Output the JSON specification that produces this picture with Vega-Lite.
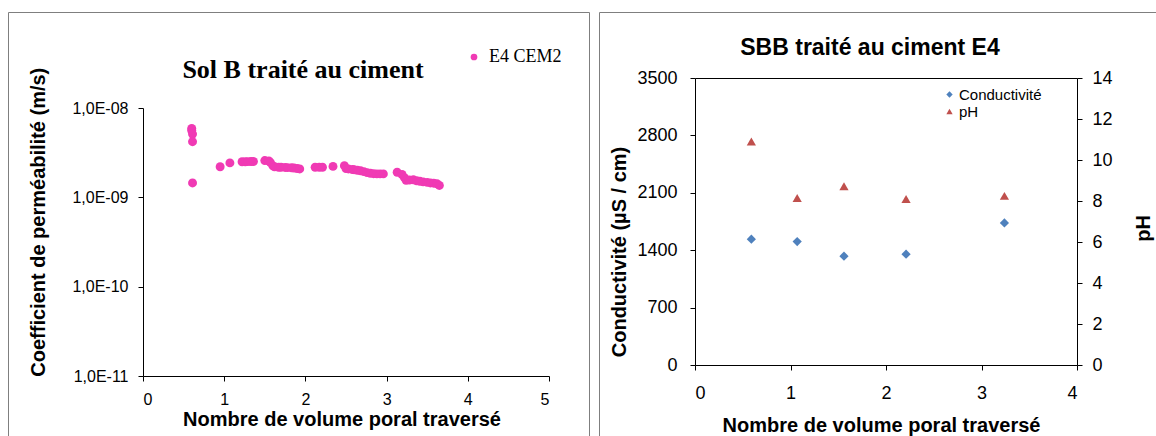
{
  "$schema": "https://vega.github.io/schema/vega-lite/v6.json",
  "padding": {"left": 7, "top": 11, "right": 0, "bottom": 0},
  "background": "white",
  "spacing": 8,
  "config": {
    "view": {"stroke": "#7f7f7f", "strokeWidth": 1},
    "axis": {
      "grid": false,
      "domainColor": "black",
      "tickColor": "black",
      "labelColor": "black",
      "titleColor": "black",
      "labelFont": "Liberation Sans",
      "titleFont": "Liberation Sans",
      "titleFontWeight": "bold",
      "tickSize": 5,
      "domainWidth": 1,
      "tickWidth": 1
    },
    "legend": {"labelColor": "black", "padding": 0}
  },
  "resolve": {"scale": {"color": "independent", "shape": "independent"}, "legend": {"color": "independent", "shape": "independent"}},
  "datasets": {
    "perm": [
      {"v": 0.60, "k": 5.9e-9, "serie": "E4 CEM2"},
      {"v": 0.60, "k": 5.6e-9, "serie": "E4 CEM2"},
      {"v": 0.61, "k": 5.1e-9, "serie": "E4 CEM2"},
      {"v": 0.61, "k": 4.2e-9, "serie": "E4 CEM2"},
      {"v": 0.61, "k": 1.45e-9, "serie": "E4 CEM2"},
      {"v": 0.95, "k": 2.2e-9, "serie": "E4 CEM2"},
      {"v": 1.07, "k": 2.43e-9, "serie": "E4 CEM2"},
      {"v": 1.22, "k": 2.5e-9, "serie": "E4 CEM2"},
      {"v": 1.26, "k": 2.5e-9, "serie": "E4 CEM2"},
      {"v": 1.29, "k": 2.51e-9, "serie": "E4 CEM2"},
      {"v": 1.33, "k": 2.52e-9, "serie": "E4 CEM2"},
      {"v": 1.36, "k": 2.52e-9, "serie": "E4 CEM2"},
      {"v": 1.50, "k": 2.58e-9, "serie": "E4 CEM2"},
      {"v": 1.55, "k": 2.55e-9, "serie": "E4 CEM2"},
      {"v": 1.57, "k": 2.45e-9, "serie": "E4 CEM2"},
      {"v": 1.60, "k": 2.25e-9, "serie": "E4 CEM2"},
      {"v": 1.62, "k": 2.2e-9, "serie": "E4 CEM2"},
      {"v": 1.67, "k": 2.17e-9, "serie": "E4 CEM2"},
      {"v": 1.70, "k": 2.17e-9, "serie": "E4 CEM2"},
      {"v": 1.75, "k": 2.16e-9, "serie": "E4 CEM2"},
      {"v": 1.78, "k": 2.15e-9, "serie": "E4 CEM2"},
      {"v": 1.83, "k": 2.14e-9, "serie": "E4 CEM2"},
      {"v": 1.86, "k": 2.13e-9, "serie": "E4 CEM2"},
      {"v": 1.90, "k": 2.1e-9, "serie": "E4 CEM2"},
      {"v": 1.93, "k": 2.08e-9, "serie": "E4 CEM2"},
      {"v": 2.12, "k": 2.17e-9, "serie": "E4 CEM2"},
      {"v": 2.17, "k": 2.17e-9, "serie": "E4 CEM2"},
      {"v": 2.21, "k": 2.17e-9, "serie": "E4 CEM2"},
      {"v": 2.34, "k": 2.22e-9, "serie": "E4 CEM2"},
      {"v": 2.48, "k": 2.26e-9, "serie": "E4 CEM2"},
      {"v": 2.50, "k": 2.1e-9, "serie": "E4 CEM2"},
      {"v": 2.53, "k": 2.08e-9, "serie": "E4 CEM2"},
      {"v": 2.58, "k": 2.05e-9, "serie": "E4 CEM2"},
      {"v": 2.60, "k": 2.04e-9, "serie": "E4 CEM2"},
      {"v": 2.64, "k": 2.01e-9, "serie": "E4 CEM2"},
      {"v": 2.68, "k": 1.98e-9, "serie": "E4 CEM2"},
      {"v": 2.72, "k": 1.94e-9, "serie": "E4 CEM2"},
      {"v": 2.76, "k": 1.89e-9, "serie": "E4 CEM2"},
      {"v": 2.80, "k": 1.86e-9, "serie": "E4 CEM2"},
      {"v": 2.84, "k": 1.84e-9, "serie": "E4 CEM2"},
      {"v": 2.88, "k": 1.83e-9, "serie": "E4 CEM2"},
      {"v": 2.92, "k": 1.83e-9, "serie": "E4 CEM2"},
      {"v": 2.96, "k": 1.83e-9, "serie": "E4 CEM2"},
      {"v": 3.13, "k": 1.91e-9, "serie": "E4 CEM2"},
      {"v": 3.19, "k": 1.80e-9, "serie": "E4 CEM2"},
      {"v": 3.22, "k": 1.66e-9, "serie": "E4 CEM2"},
      {"v": 3.24, "k": 1.55e-9, "serie": "E4 CEM2"},
      {"v": 3.28, "k": 1.56e-9, "serie": "E4 CEM2"},
      {"v": 3.33, "k": 1.57e-9, "serie": "E4 CEM2"},
      {"v": 3.37, "k": 1.53e-9, "serie": "E4 CEM2"},
      {"v": 3.41, "k": 1.51e-9, "serie": "E4 CEM2"},
      {"v": 3.45, "k": 1.49e-9, "serie": "E4 CEM2"},
      {"v": 3.50, "k": 1.47e-9, "serie": "E4 CEM2"},
      {"v": 3.54, "k": 1.45e-9, "serie": "E4 CEM2"},
      {"v": 3.58, "k": 1.44e-9, "serie": "E4 CEM2"},
      {"v": 3.62, "k": 1.42e-9, "serie": "E4 CEM2"},
      {"v": 3.65, "k": 1.36e-9, "serie": "E4 CEM2"}
    ],
    "chem": [
      {"v": 0.59, "val": 1534, "serie": "Conductivité"},
      {"v": 1.07, "val": 1505, "serie": "Conductivité"},
      {"v": 1.56, "val": 1327, "serie": "Conductivité"},
      {"v": 2.21, "val": 1351, "serie": "Conductivité"},
      {"v": 3.24, "val": 1733, "serie": "Conductivité"},
      {"v": 0.59, "val": 10.9, "serie": "pH"},
      {"v": 1.07, "val": 8.15, "serie": "pH"},
      {"v": 1.56, "val": 8.72, "serie": "pH"},
      {"v": 2.21, "val": 8.1, "serie": "pH"},
      {"v": 3.24, "val": 8.25, "serie": "pH"}
    ]
  },
  "hconcat": [
    {
      "width": 581,
      "height": 430,
      "title": {"text": "Sol B traité au ciment", "font": "Liberation Serif", "fontSize": 26, "fontWeight": "bold", "color": "black", "anchor": "middle", "offset": -84, "baseline": "middle", "dx": 4.5},
      "data": {"name": "perm"},
      "mark": {"type": "circle", "size": 80, "opacity": 1},
      "encoding": {
        "x": {
          "field": "v", "type": "quantitative",
          "scale": {"domain": [0, 5], "range": [135, 541], "nice": false, "zero": false},
          "axis": {"values": [0, 1, 2, 3, 4, 5], "format": "d", "offset": -66, "labelFontSize": 16, "labelPadding": 10,
                   "title": "Nombre de volume poral traversé", "titleFontSize": 20, "titleX": 333.5, "titleY": 43, "titleBaseline": "middle"}
        },
        "y": {
          "field": "k", "type": "quantitative",
          "scale": {"type": "log", "domain": [1e-11, 1e-8], "range": [364, 96], "nice": false},
          "axis": {"values": [1e-11, 1e-10, 1e-9, 1e-8], "offset": -135, "labelFontSize": 16, "labelPadding": 10,
                   "labelExpr": "'1,0E-' + (round(-log(datum.value)/LN10) < 10 ? '0' : '') + round(-log(datum.value)/LN10)",
                   "title": "Coefficient de perméabilité (m/s)", "titleFontSize": 20, "titleX": -105, "titleY": 209.7, "titleBaseline": "middle", "titleAngle": 270}
        },
        "color": {
          "field": "serie", "type": "nominal",
          "scale": {"domain": ["E4 CEM2"], "range": ["#F03AB4"]},
          "legend": {"orient": "none", "legendX": 457, "legendY": 36, "title": null, "labelFont": "Liberation Serif", "labelFontSize": 18, "symbolSize": 45, "symbolType": "circle", "labelOffset": 6}
        }
      }
    },
    {
      "width": 564,
      "height": 430,
      "title": {"text": "SBB traité au ciment E4", "font": "Liberation Sans", "fontSize": 23, "fontWeight": "bold", "color": "black", "anchor": "middle", "offset": -59, "baseline": "middle", "dx": -11},
      "data": {"name": "chem"},
      "layer": [
        {
          "transform": [{"filter": "datum.serie == 'Conductivité'"}],
          "mark": {"type": "point", "filled": true, "size": 85, "opacity": 1},
          "encoding": {
            "x": {
              "field": "v", "type": "quantitative",
              "scale": {"domain": [0, 4], "range": [96, 478], "nice": false, "zero": false},
              "axis": {"orient": "bottom", "values": [0, 1, 2, 3, 4], "format": "d", "offset": -77, "labelFontSize": 18, "labelPadding": 14,
                       "title": "Nombre de volume poral traversé", "titleFontSize": 20, "titleX": 282, "titleY": 60.5, "titleBaseline": "middle"}
            },
            "y": {
              "field": "val", "type": "quantitative",
              "scale": {"domain": [0, 3500], "range": [353, 66], "nice": false},
              "axis": {"orient": "left", "values": [0, 700, 1400, 2100, 2800, 3500], "format": "d", "offset": -96, "labelFontSize": 18, "labelPadding": 13,
                       "grid": true, "gridWidth": 1,
                       "gridColor": {"condition": {"test": "datum.value >= 3500", "value": "black"}, "value": "transparent"},
                       "title": "Conductivité (µS / cm)", "titleFontSize": 20, "titleX": -75.2, "titleY": 239.5, "titleBaseline": "middle", "titleAngle": 270}
            },
            "color": {
              "field": "serie", "type": "nominal",
              "scale": {"domain": ["Conductivité", "pH"], "range": ["#4F81BD", "#C0504D"]},
              "legend": {"orient": "none", "legendX": 343, "legendY": 75, "title": null, "labelFont": "Liberation Sans", "labelFontSize": 15, "symbolSize": 40, "labelOffset": 2, "rowPadding": 1}
            },
            "shape": {
              "field": "serie", "type": "nominal",
              "scale": {"domain": ["Conductivité", "pH"], "range": ["diamond", "triangle-up"]},
              "legend": {"orient": "none", "legendX": 343, "legendY": 75, "title": null, "labelFont": "Liberation Sans", "labelFontSize": 15, "symbolSize": 40, "labelOffset": 2, "rowPadding": 1}
            }
          }
        },
        {
          "transform": [{"filter": "datum.serie == 'pH'"}],
          "mark": {"type": "point", "filled": true, "size": 85, "opacity": 1},
          "encoding": {
            "x": {"field": "v", "type": "quantitative"},
            "y": {
              "field": "val", "type": "quantitative",
              "scale": {"domain": [0, 14], "range": [353, 66], "nice": false},
              "axis": {"orient": "right", "values": [0, 2, 4, 6, 8, 10, 12, 14], "offset": -86, "labelFontSize": 18, "labelPadding": 10,
                       "title": "pH", "titleFontSize": 20, "titleX": 66.7, "titleY": 216, "titleBaseline": "middle", "titleAngle": 270}
            },
            "color": {"field": "serie", "type": "nominal"},
            "shape": {"field": "serie", "type": "nominal"}
          }
        }
      ],
      "resolve": {"scale": {"y": "independent"}}
    }
  ]
}
